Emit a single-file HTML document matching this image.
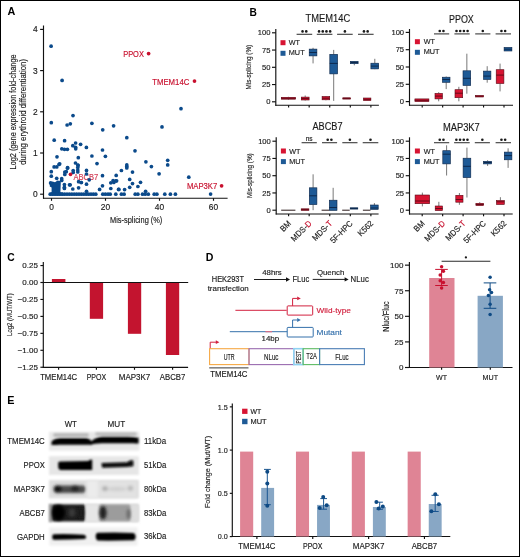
<!DOCTYPE html><html><head><meta charset="utf-8"><style>html,body{margin:0;padding:0;background:#fff;}svg{display:block;font-family:"Liberation Sans",sans-serif;will-change:transform;}</style></head><body>
<svg width="520" height="557" viewBox="0 0 520 557">
<defs><filter id="b1" x="-20%" y="-50%" width="140%" height="200%"><feGaussianBlur stdDeviation="0.9"/></filter><filter id="b2" x="-20%" y="-50%" width="140%" height="200%"><feGaussianBlur stdDeviation="1.6"/></filter><filter id="b3" x="-20%" y="-50%" width="140%" height="200%"><feGaussianBlur stdDeviation="2.5"/></filter></defs>
<rect x="0.00" y="0.00" width="520.00" height="557.00" fill="#fff" stroke="none" stroke-width="0"/>
<text x="7.50" y="15.40" font-size="10.8" text-anchor="start" fill="#000" font-weight="bold">A</text>
<text x="249.60" y="15.70" font-size="10.2" text-anchor="start" fill="#000" font-weight="bold">B</text>
<text x="7.30" y="261.00" font-size="10.3" text-anchor="start" fill="#000" font-weight="bold">C</text>
<text x="205.80" y="261.40" font-size="10.6" text-anchor="start" fill="#000" font-weight="bold">D</text>
<text x="7.30" y="404.10" font-size="10.8" text-anchor="start" fill="#000" font-weight="bold">E</text>
<line x1="43.50" y1="25.50" x2="43.50" y2="198.70" stroke="#111" stroke-width="1.15"/>
<line x1="43.00" y1="198.20" x2="227.60" y2="198.20" stroke="#111" stroke-width="1.15"/>
<line x1="40.10" y1="194.20" x2="43.50" y2="194.20" stroke="#111" stroke-width="1.15"/>
<text x="37.60" y="197.20" font-size="8.4" text-anchor="end" fill="#1a1a1a" font-weight="normal" stroke="#1a1a1a" stroke-width="0.15">0</text>
<line x1="40.10" y1="153.00" x2="43.50" y2="153.00" stroke="#111" stroke-width="1.15"/>
<text x="37.60" y="156.00" font-size="8.4" text-anchor="end" fill="#1a1a1a" font-weight="normal" stroke="#1a1a1a" stroke-width="0.15">1</text>
<line x1="40.10" y1="111.80" x2="43.50" y2="111.80" stroke="#111" stroke-width="1.15"/>
<text x="37.60" y="114.80" font-size="8.4" text-anchor="end" fill="#1a1a1a" font-weight="normal" stroke="#1a1a1a" stroke-width="0.15">2</text>
<line x1="40.10" y1="70.60" x2="43.50" y2="70.60" stroke="#111" stroke-width="1.15"/>
<text x="37.60" y="73.60" font-size="8.4" text-anchor="end" fill="#1a1a1a" font-weight="normal" stroke="#1a1a1a" stroke-width="0.15">3</text>
<line x1="40.10" y1="29.40" x2="43.50" y2="29.40" stroke="#111" stroke-width="1.15"/>
<text x="37.60" y="32.40" font-size="8.4" text-anchor="end" fill="#1a1a1a" font-weight="normal" stroke="#1a1a1a" stroke-width="0.15">4</text>
<line x1="51.50" y1="198.20" x2="51.50" y2="200.80" stroke="#111" stroke-width="1.15"/>
<text x="51.50" y="210.30" font-size="8.4" text-anchor="middle" fill="#1a1a1a" font-weight="normal" stroke="#1a1a1a" stroke-width="0.15">0</text>
<line x1="105.50" y1="198.20" x2="105.50" y2="200.80" stroke="#111" stroke-width="1.15"/>
<text x="105.50" y="210.30" font-size="8.4" text-anchor="middle" fill="#1a1a1a" font-weight="normal" stroke="#1a1a1a" stroke-width="0.15">20</text>
<line x1="159.50" y1="198.20" x2="159.50" y2="200.80" stroke="#111" stroke-width="1.15"/>
<text x="159.50" y="210.30" font-size="8.4" text-anchor="middle" fill="#1a1a1a" font-weight="normal" stroke="#1a1a1a" stroke-width="0.15">40</text>
<line x1="213.50" y1="198.20" x2="213.50" y2="200.80" stroke="#111" stroke-width="1.15"/>
<text x="213.50" y="210.30" font-size="8.4" text-anchor="middle" fill="#1a1a1a" font-weight="normal" stroke="#1a1a1a" stroke-width="0.15">60</text>
<text x="136.20" y="222.60" font-size="9" text-anchor="middle" fill="#1a1a1a" font-weight="normal" stroke="#1a1a1a" stroke-width="0.15" textLength="52.30" lengthAdjust="spacingAndGlyphs">Mis-splicing (%)</text>
<text x="15.60" y="111.90" font-size="8.8" text-anchor="middle" fill="#1a1a1a" font-weight="normal" stroke="#1a1a1a" stroke-width="0.15" textLength="115.00" lengthAdjust="spacingAndGlyphs" transform="rotate(-90 15.60 111.90)">Log2 (gene expression fold-change</text>
<text x="26.30" y="111.90" font-size="8.8" text-anchor="middle" fill="#1a1a1a" font-weight="normal" stroke="#1a1a1a" stroke-width="0.15" textLength="105.80" lengthAdjust="spacingAndGlyphs" transform="rotate(-90 26.30 111.90)">during erythroid differentiation)</text>
<text x="123.20" y="56.80" font-size="8.4" text-anchor="start" fill="#c8102e" font-weight="normal" stroke="#c8102e" stroke-width="0.15" textLength="20.70" lengthAdjust="spacingAndGlyphs">PPOX</text>
<text x="152.20" y="84.70" font-size="8.4" text-anchor="start" fill="#c8102e" font-weight="normal" stroke="#c8102e" stroke-width="0.15" textLength="37.20" lengthAdjust="spacingAndGlyphs">TMEM14C</text>
<text x="73.40" y="179.70" font-size="8.4" text-anchor="start" fill="#c8102e" font-weight="normal" stroke="#c8102e" stroke-width="0.15" textLength="24.80" lengthAdjust="spacingAndGlyphs" opacity="0.85">ABCB7</text>
<text x="186.90" y="188.70" font-size="8.4" text-anchor="start" fill="#c8102e" font-weight="normal" stroke="#c8102e" stroke-width="0.15" textLength="30.40" lengthAdjust="spacingAndGlyphs">MAP3K7</text>
<path d="M49.8,182.4 L52.5,181.6 L55,182.2 L57.5,180.6 L60.8,181.2 L60.8,183 L60.4,192.2 L63,192.6 L64,195.6 L50,195.6 L50,193 L51.6,192 L51.6,187.5 L49.8,186.5 Z" fill="#0b4a8b"/>
<circle cx="51.10" cy="46.20" r="1.85" fill="#0b4a8b"/>
<circle cx="62.10" cy="80.40" r="1.85" fill="#0b4a8b"/>
<circle cx="73.00" cy="115.60" r="1.85" fill="#0b4a8b"/>
<circle cx="51.30" cy="122.70" r="1.85" fill="#0b4a8b"/>
<circle cx="67.10" cy="125.00" r="1.85" fill="#0b4a8b"/>
<circle cx="70.30" cy="123.80" r="1.85" fill="#0b4a8b"/>
<circle cx="91.90" cy="123.30" r="1.85" fill="#0b4a8b"/>
<circle cx="102.70" cy="129.80" r="1.85" fill="#0b4a8b"/>
<circle cx="113.60" cy="125.80" r="1.85" fill="#0b4a8b"/>
<circle cx="126.80" cy="137.70" r="1.85" fill="#0b4a8b"/>
<circle cx="181.00" cy="108.70" r="1.85" fill="#0b4a8b"/>
<circle cx="162.00" cy="126.90" r="1.85" fill="#0b4a8b"/>
<circle cx="54.20" cy="140.20" r="1.85" fill="#0b4a8b"/>
<circle cx="64.60" cy="140.70" r="1.85" fill="#0b4a8b"/>
<circle cx="75.60" cy="143.00" r="1.85" fill="#0b4a8b"/>
<circle cx="80.60" cy="144.30" r="1.85" fill="#0b4a8b"/>
<circle cx="72.80" cy="145.70" r="1.85" fill="#0b4a8b"/>
<circle cx="75.60" cy="147.30" r="1.85" fill="#0b4a8b"/>
<circle cx="75.70" cy="148.80" r="1.85" fill="#0b4a8b"/>
<circle cx="86.40" cy="147.40" r="1.85" fill="#0b4a8b"/>
<circle cx="61.80" cy="148.80" r="1.85" fill="#0b4a8b"/>
<circle cx="64.50" cy="149.30" r="1.85" fill="#0b4a8b"/>
<circle cx="67.40" cy="149.30" r="1.85" fill="#0b4a8b"/>
<circle cx="57.00" cy="156.80" r="1.85" fill="#0b4a8b"/>
<circle cx="78.30" cy="157.70" r="1.85" fill="#0b4a8b"/>
<circle cx="91.90" cy="156.00" r="1.85" fill="#0b4a8b"/>
<circle cx="59.70" cy="163.80" r="1.85" fill="#0b4a8b"/>
<circle cx="75.50" cy="163.00" r="1.85" fill="#0b4a8b"/>
<circle cx="78.10" cy="165.40" r="1.85" fill="#0b4a8b"/>
<circle cx="54.10" cy="166.90" r="1.85" fill="#0b4a8b"/>
<circle cx="56.80" cy="166.90" r="1.85" fill="#0b4a8b"/>
<circle cx="67.60" cy="167.60" r="1.85" fill="#0b4a8b"/>
<circle cx="102.50" cy="150.00" r="1.85" fill="#0b4a8b"/>
<circle cx="135.00" cy="150.80" r="1.85" fill="#0b4a8b"/>
<circle cx="105.40" cy="156.30" r="1.85" fill="#0b4a8b"/>
<circle cx="97.00" cy="163.60" r="1.85" fill="#0b4a8b"/>
<circle cx="126.80" cy="164.90" r="1.85" fill="#0b4a8b"/>
<circle cx="126.80" cy="166.50" r="1.85" fill="#0b4a8b"/>
<circle cx="126.80" cy="167.90" r="1.85" fill="#0b4a8b"/>
<circle cx="145.90" cy="161.80" r="1.85" fill="#0b4a8b"/>
<circle cx="151.40" cy="166.60" r="1.85" fill="#0b4a8b"/>
<circle cx="167.70" cy="160.30" r="1.85" fill="#0b4a8b"/>
<circle cx="167.70" cy="164.90" r="1.85" fill="#0b4a8b"/>
<circle cx="59.00" cy="164.40" r="1.85" fill="#0b4a8b"/>
<circle cx="51.30" cy="171.70" r="1.85" fill="#0b4a8b"/>
<circle cx="51.30" cy="176.20" r="1.85" fill="#0b4a8b"/>
<circle cx="67.50" cy="168.20" r="1.85" fill="#0b4a8b"/>
<circle cx="64.80" cy="172.10" r="1.85" fill="#0b4a8b"/>
<circle cx="64.80" cy="174.40" r="1.85" fill="#0b4a8b"/>
<circle cx="66.30" cy="171.70" r="1.85" fill="#0b4a8b"/>
<circle cx="73.20" cy="170.50" r="1.85" fill="#0b4a8b"/>
<circle cx="73.20" cy="172.50" r="1.85" fill="#0b4a8b"/>
<circle cx="77.80" cy="165.00" r="1.85" fill="#0b4a8b"/>
<circle cx="77.80" cy="167.50" r="1.85" fill="#0b4a8b"/>
<circle cx="77.80" cy="170.00" r="1.85" fill="#0b4a8b"/>
<circle cx="77.80" cy="172.00" r="1.85" fill="#0b4a8b"/>
<circle cx="56.70" cy="178.30" r="1.85" fill="#0b4a8b"/>
<circle cx="61.70" cy="178.70" r="1.85" fill="#0b4a8b"/>
<circle cx="61.70" cy="180.50" r="1.85" fill="#0b4a8b"/>
<circle cx="64.40" cy="184.60" r="1.85" fill="#0b4a8b"/>
<circle cx="64.40" cy="187.30" r="1.85" fill="#0b4a8b"/>
<circle cx="64.40" cy="188.40" r="1.85" fill="#0b4a8b"/>
<circle cx="70.20" cy="184.80" r="1.85" fill="#0b4a8b"/>
<circle cx="72.80" cy="189.00" r="1.85" fill="#0b4a8b"/>
<circle cx="78.60" cy="187.80" r="1.85" fill="#0b4a8b"/>
<circle cx="78.60" cy="181.70" r="1.85" fill="#0b4a8b"/>
<circle cx="81.30" cy="182.50" r="1.85" fill="#0b4a8b"/>
<circle cx="86.50" cy="170.40" r="1.85" fill="#0b4a8b"/>
<circle cx="86.50" cy="174.00" r="1.85" fill="#0b4a8b"/>
<circle cx="89.20" cy="179.80" r="1.85" fill="#0b4a8b"/>
<circle cx="81.20" cy="182.50" r="1.85" fill="#0b4a8b"/>
<circle cx="86.50" cy="184.20" r="1.85" fill="#0b4a8b"/>
<circle cx="102.50" cy="175.70" r="1.85" fill="#0b4a8b"/>
<circle cx="102.50" cy="185.80" r="1.85" fill="#0b4a8b"/>
<circle cx="99.60" cy="189.40" r="1.85" fill="#0b4a8b"/>
<circle cx="116.20" cy="175.40" r="1.85" fill="#0b4a8b"/>
<circle cx="110.80" cy="182.80" r="1.85" fill="#0b4a8b"/>
<circle cx="113.10" cy="180.50" r="1.85" fill="#0b4a8b"/>
<circle cx="115.80" cy="180.90" r="1.85" fill="#0b4a8b"/>
<circle cx="113.80" cy="182.50" r="1.85" fill="#0b4a8b"/>
<circle cx="110.80" cy="188.50" r="1.85" fill="#0b4a8b"/>
<circle cx="118.50" cy="189.40" r="1.85" fill="#0b4a8b"/>
<circle cx="86.50" cy="191.30" r="1.85" fill="#0b4a8b"/>
<circle cx="121.40" cy="170.50" r="1.85" fill="#0b4a8b"/>
<circle cx="132.50" cy="172.10" r="1.85" fill="#0b4a8b"/>
<circle cx="116.60" cy="180.80" r="1.85" fill="#0b4a8b"/>
<circle cx="129.70" cy="179.40" r="1.85" fill="#0b4a8b"/>
<circle cx="132.50" cy="183.60" r="1.85" fill="#0b4a8b"/>
<circle cx="140.50" cy="182.30" r="1.85" fill="#0b4a8b"/>
<circle cx="137.90" cy="186.50" r="1.85" fill="#0b4a8b"/>
<circle cx="129.70" cy="187.30" r="1.85" fill="#0b4a8b"/>
<circle cx="118.90" cy="189.40" r="1.85" fill="#0b4a8b"/>
<circle cx="124.60" cy="189.60" r="1.85" fill="#0b4a8b"/>
<circle cx="145.60" cy="191.30" r="1.85" fill="#0b4a8b"/>
<circle cx="159.10" cy="173.80" r="1.85" fill="#0b4a8b"/>
<circle cx="188.80" cy="177.20" r="1.85" fill="#0b4a8b"/>
<circle cx="210.60" cy="194.10" r="1.85" fill="#0b4a8b"/>
<circle cx="50.60" cy="182.90" r="1.85" fill="#0b4a8b"/>
<circle cx="69.50" cy="184.80" r="1.85" fill="#0b4a8b"/>
<circle cx="50.20" cy="194.20" r="1.85" fill="#0b4a8b"/>
<circle cx="52.60" cy="194.20" r="1.85" fill="#0b4a8b"/>
<circle cx="55.00" cy="194.20" r="1.85" fill="#0b4a8b"/>
<circle cx="57.40" cy="194.20" r="1.85" fill="#0b4a8b"/>
<circle cx="59.80" cy="194.20" r="1.85" fill="#0b4a8b"/>
<circle cx="62.20" cy="194.20" r="1.85" fill="#0b4a8b"/>
<circle cx="64.60" cy="194.20" r="1.85" fill="#0b4a8b"/>
<circle cx="67.00" cy="194.20" r="1.85" fill="#0b4a8b"/>
<circle cx="69.40" cy="194.20" r="1.85" fill="#0b4a8b"/>
<circle cx="71.80" cy="194.20" r="1.85" fill="#0b4a8b"/>
<circle cx="74.20" cy="194.20" r="1.85" fill="#0b4a8b"/>
<circle cx="76.60" cy="194.20" r="1.85" fill="#0b4a8b"/>
<circle cx="79.00" cy="194.20" r="1.85" fill="#0b4a8b"/>
<circle cx="81.40" cy="194.20" r="1.85" fill="#0b4a8b"/>
<circle cx="83.80" cy="194.20" r="1.85" fill="#0b4a8b"/>
<circle cx="86.20" cy="194.20" r="1.85" fill="#0b4a8b"/>
<circle cx="88.60" cy="194.20" r="1.85" fill="#0b4a8b"/>
<circle cx="91.00" cy="194.20" r="1.85" fill="#0b4a8b"/>
<circle cx="93.40" cy="194.20" r="1.85" fill="#0b4a8b"/>
<circle cx="95.80" cy="194.20" r="1.85" fill="#0b4a8b"/>
<circle cx="102.80" cy="194.20" r="1.85" fill="#0b4a8b"/>
<circle cx="105.40" cy="194.20" r="1.85" fill="#0b4a8b"/>
<circle cx="108.00" cy="194.20" r="1.85" fill="#0b4a8b"/>
<circle cx="110.20" cy="194.20" r="1.85" fill="#0b4a8b"/>
<circle cx="115.80" cy="194.20" r="1.85" fill="#0b4a8b"/>
<circle cx="121.40" cy="194.20" r="1.85" fill="#0b4a8b"/>
<circle cx="124.10" cy="194.20" r="1.85" fill="#0b4a8b"/>
<circle cx="135.20" cy="194.20" r="1.85" fill="#0b4a8b"/>
<circle cx="137.90" cy="194.20" r="1.85" fill="#0b4a8b"/>
<circle cx="142.50" cy="194.20" r="1.85" fill="#0b4a8b"/>
<circle cx="145.20" cy="194.20" r="1.85" fill="#0b4a8b"/>
<circle cx="148.30" cy="194.20" r="1.85" fill="#0b4a8b"/>
<circle cx="154.20" cy="194.20" r="1.85" fill="#0b4a8b"/>
<circle cx="156.90" cy="194.20" r="1.85" fill="#0b4a8b"/>
<circle cx="164.80" cy="194.20" r="1.85" fill="#0b4a8b"/>
<circle cx="170.40" cy="194.20" r="1.85" fill="#0b4a8b"/>
<circle cx="175.40" cy="194.20" r="1.85" fill="#0b4a8b"/>
<circle cx="148.60" cy="53.60" r="1.85" fill="#c8102e"/>
<circle cx="194.50" cy="81.10" r="1.85" fill="#c8102e"/>
<circle cx="70.50" cy="174.30" r="1.85" fill="#c8102e"/>
<circle cx="221.60" cy="185.80" r="1.85" fill="#c8102e"/>
<line x1="275.80" y1="29.00" x2="275.80" y2="105.70" stroke="#111" stroke-width="1.15"/>
<line x1="275.30" y1="105.20" x2="378.90" y2="105.20" stroke="#111" stroke-width="1.15"/>
<line x1="272.00" y1="101.80" x2="275.80" y2="101.80" stroke="#111" stroke-width="1.15"/>
<text x="270.40" y="104.40" font-size="7.6" text-anchor="end" fill="#1a1a1a" font-weight="normal" stroke="#1a1a1a" stroke-width="0.15">0</text>
<line x1="272.00" y1="84.55" x2="275.80" y2="84.55" stroke="#111" stroke-width="1.15"/>
<text x="270.40" y="87.15" font-size="7.6" text-anchor="end" fill="#1a1a1a" font-weight="normal" stroke="#1a1a1a" stroke-width="0.15">25</text>
<line x1="272.00" y1="67.30" x2="275.80" y2="67.30" stroke="#111" stroke-width="1.15"/>
<text x="270.40" y="69.90" font-size="7.6" text-anchor="end" fill="#1a1a1a" font-weight="normal" stroke="#1a1a1a" stroke-width="0.15">50</text>
<line x1="272.00" y1="50.05" x2="275.80" y2="50.05" stroke="#111" stroke-width="1.15"/>
<text x="270.40" y="52.65" font-size="7.6" text-anchor="end" fill="#1a1a1a" font-weight="normal" stroke="#1a1a1a" stroke-width="0.15">75</text>
<line x1="272.00" y1="32.80" x2="275.80" y2="32.80" stroke="#111" stroke-width="1.15"/>
<text x="270.40" y="35.40" font-size="7.6" text-anchor="end" fill="#1a1a1a" font-weight="normal" stroke="#1a1a1a" stroke-width="0.15">100</text>
<line x1="288.60" y1="105.20" x2="288.60" y2="107.50" stroke="#111" stroke-width="1.15"/>
<line x1="309.17" y1="105.20" x2="309.17" y2="107.50" stroke="#111" stroke-width="1.15"/>
<line x1="329.74" y1="105.20" x2="329.74" y2="107.50" stroke="#111" stroke-width="1.15"/>
<line x1="350.31" y1="105.20" x2="350.31" y2="107.50" stroke="#111" stroke-width="1.15"/>
<line x1="370.88" y1="105.20" x2="370.88" y2="107.50" stroke="#111" stroke-width="1.15"/>
<text x="327.90" y="22.10" font-size="10" text-anchor="middle" fill="#1a1a1a" font-weight="normal" stroke="#1a1a1a" stroke-width="0.15" textLength="44.70" lengthAdjust="spacingAndGlyphs">TMEM14C</text>
<text x="251.30" y="67.10" font-size="7.6" text-anchor="middle" fill="#222" font-weight="normal" stroke="#222" stroke-width="0.15" textLength="44.60" lengthAdjust="spacingAndGlyphs" transform="rotate(-90 251.30 67.10)">Mis-splicing (%)</text>
<rect x="280.50" y="40.20" width="5.00" height="5.00" fill="#d71432" stroke="none" stroke-width="0"/>
<rect x="280.50" y="50.80" width="5.00" height="5.00" fill="#1e5a96" stroke="none" stroke-width="0"/>
<text x="288.80" y="45.20" font-size="7.8" text-anchor="start" fill="#1a1a1a" font-weight="normal" stroke="#1a1a1a" stroke-width="0.15" textLength="11.20" lengthAdjust="spacingAndGlyphs">WT</text>
<text x="288.80" y="55.20" font-size="7.8" text-anchor="start" fill="#1a1a1a" font-weight="normal" stroke="#1a1a1a" stroke-width="0.15" textLength="15.80" lengthAdjust="spacingAndGlyphs">MUT</text>
<line x1="296.60" y1="34.30" x2="312.20" y2="34.30" stroke="#3a3a3a" stroke-width="1.1"/>
<circle cx="302.55" cy="31.40" r="1.3" fill="#1a1a1a"/>
<circle cx="306.25" cy="31.40" r="1.3" fill="#1a1a1a"/>
<line x1="316.80" y1="34.30" x2="332.40" y2="34.30" stroke="#3a3a3a" stroke-width="1.1"/>
<circle cx="319.05" cy="31.40" r="1.3" fill="#1a1a1a"/>
<circle cx="322.75" cy="31.40" r="1.3" fill="#1a1a1a"/>
<circle cx="326.45" cy="31.40" r="1.3" fill="#1a1a1a"/>
<circle cx="330.15" cy="31.40" r="1.3" fill="#1a1a1a"/>
<line x1="337.10" y1="34.30" x2="352.70" y2="34.30" stroke="#3a3a3a" stroke-width="1.1"/>
<circle cx="344.90" cy="31.40" r="1.3" fill="#1a1a1a"/>
<line x1="358.00" y1="34.30" x2="373.60" y2="34.30" stroke="#3a3a3a" stroke-width="1.1"/>
<circle cx="363.95" cy="31.40" r="1.3" fill="#1a1a1a"/>
<circle cx="367.65" cy="31.40" r="1.3" fill="#1a1a1a"/>
<line x1="288.45" y1="96.80" x2="288.45" y2="97.30" stroke="#555" stroke-width="0.8"/>
<line x1="288.45" y1="99.20" x2="288.45" y2="99.80" stroke="#555" stroke-width="0.8"/>
<rect x="281.30" y="97.30" width="14.30" height="1.90" fill="#d71432" stroke="#5a0814" stroke-width="0.6"/>
<line x1="281.30" y1="98.30" x2="295.60" y2="98.30" stroke="#5a0814" stroke-width="0.9"/>
<line x1="305.20" y1="95.50" x2="305.20" y2="97.10" stroke="#555" stroke-width="0.8"/>
<line x1="305.20" y1="100.00" x2="305.20" y2="100.50" stroke="#555" stroke-width="0.8"/>
<rect x="301.30" y="97.10" width="7.80" height="2.90" fill="#d71432" stroke="#5a0814" stroke-width="0.6"/>
<line x1="301.30" y1="98.60" x2="309.10" y2="98.60" stroke="#5a0814" stroke-width="0.9"/>
<line x1="313.05" y1="47.80" x2="313.05" y2="49.10" stroke="#555" stroke-width="0.8"/>
<line x1="313.05" y1="55.90" x2="313.05" y2="63.40" stroke="#555" stroke-width="0.8"/>
<rect x="309.20" y="49.10" width="7.70" height="6.80" fill="#1e5a96" stroke="#0a2446" stroke-width="0.6"/>
<line x1="309.20" y1="52.50" x2="316.90" y2="52.50" stroke="#0a2446" stroke-width="0.9"/>
<line x1="325.90" y1="96.00" x2="325.90" y2="96.50" stroke="#555" stroke-width="0.8"/>
<line x1="325.90" y1="99.80" x2="325.90" y2="100.30" stroke="#555" stroke-width="0.8"/>
<rect x="322.10" y="96.50" width="7.60" height="3.30" fill="#d71432" stroke="#5a0814" stroke-width="0.6"/>
<line x1="322.10" y1="98.20" x2="329.70" y2="98.20" stroke="#5a0814" stroke-width="0.9"/>
<line x1="333.70" y1="49.90" x2="333.70" y2="54.30" stroke="#555" stroke-width="0.8"/>
<line x1="333.70" y1="73.90" x2="333.70" y2="100.90" stroke="#555" stroke-width="0.8"/>
<rect x="329.80" y="54.30" width="7.80" height="19.60" fill="#1e5a96" stroke="#0a2446" stroke-width="0.6"/>
<line x1="329.80" y1="63.40" x2="337.60" y2="63.40" stroke="#0a2446" stroke-width="0.9"/>
<rect x="342.80" y="97.80" width="7.70" height="1.30" fill="#d71432" stroke="#5a0814" stroke-width="0.6"/>
<line x1="342.80" y1="98.40" x2="350.50" y2="98.40" stroke="#5a0814" stroke-width="0.9"/>
<line x1="354.30" y1="61.00" x2="354.30" y2="61.30" stroke="#555" stroke-width="0.8"/>
<line x1="354.30" y1="63.70" x2="354.30" y2="65.30" stroke="#555" stroke-width="0.8"/>
<rect x="350.50" y="61.30" width="7.60" height="2.40" fill="#1e5a96" stroke="#0a2446" stroke-width="0.6"/>
<line x1="350.50" y1="62.50" x2="358.10" y2="62.50" stroke="#0a2446" stroke-width="0.9"/>
<rect x="363.50" y="98.00" width="7.40" height="2.60" fill="#d71432" stroke="#5a0814" stroke-width="0.6"/>
<line x1="363.50" y1="99.30" x2="370.90" y2="99.30" stroke="#5a0814" stroke-width="0.9"/>
<line x1="374.80" y1="58.80" x2="374.80" y2="63.20" stroke="#555" stroke-width="0.8"/>
<line x1="374.80" y1="68.90" x2="374.80" y2="69.20" stroke="#555" stroke-width="0.8"/>
<rect x="370.90" y="63.20" width="7.80" height="5.70" fill="#1e5a96" stroke="#0a2446" stroke-width="0.6"/>
<line x1="370.90" y1="66.10" x2="378.70" y2="66.10" stroke="#0a2446" stroke-width="0.9"/>
<line x1="409.50" y1="29.00" x2="409.50" y2="105.70" stroke="#111" stroke-width="1.15"/>
<line x1="409.00" y1="105.20" x2="513.00" y2="105.20" stroke="#111" stroke-width="1.15"/>
<line x1="405.70" y1="101.60" x2="409.50" y2="101.60" stroke="#111" stroke-width="1.15"/>
<text x="404.10" y="104.20" font-size="7.6" text-anchor="end" fill="#1a1a1a" font-weight="normal" stroke="#1a1a1a" stroke-width="0.15">0</text>
<line x1="405.70" y1="84.30" x2="409.50" y2="84.30" stroke="#111" stroke-width="1.15"/>
<text x="404.10" y="86.90" font-size="7.6" text-anchor="end" fill="#1a1a1a" font-weight="normal" stroke="#1a1a1a" stroke-width="0.15">25</text>
<line x1="405.70" y1="67.00" x2="409.50" y2="67.00" stroke="#111" stroke-width="1.15"/>
<text x="404.10" y="69.60" font-size="7.6" text-anchor="end" fill="#1a1a1a" font-weight="normal" stroke="#1a1a1a" stroke-width="0.15">50</text>
<line x1="405.70" y1="49.70" x2="409.50" y2="49.70" stroke="#111" stroke-width="1.15"/>
<text x="404.10" y="52.30" font-size="7.6" text-anchor="end" fill="#1a1a1a" font-weight="normal" stroke="#1a1a1a" stroke-width="0.15">75</text>
<line x1="405.70" y1="32.40" x2="409.50" y2="32.40" stroke="#111" stroke-width="1.15"/>
<text x="404.10" y="35.00" font-size="7.6" text-anchor="end" fill="#1a1a1a" font-weight="normal" stroke="#1a1a1a" stroke-width="0.15">100</text>
<line x1="422.20" y1="105.20" x2="422.20" y2="107.50" stroke="#111" stroke-width="1.15"/>
<line x1="442.65" y1="105.20" x2="442.65" y2="107.50" stroke="#111" stroke-width="1.15"/>
<line x1="463.10" y1="105.20" x2="463.10" y2="107.50" stroke="#111" stroke-width="1.15"/>
<line x1="483.55" y1="105.20" x2="483.55" y2="107.50" stroke="#111" stroke-width="1.15"/>
<line x1="504.00" y1="105.20" x2="504.00" y2="107.50" stroke="#111" stroke-width="1.15"/>
<text x="461.40" y="22.90" font-size="10" text-anchor="middle" fill="#1a1a1a" font-weight="normal" stroke="#1a1a1a" stroke-width="0.15" textLength="24.80" lengthAdjust="spacingAndGlyphs">PPOX</text>
<rect x="414.90" y="39.20" width="5.00" height="5.00" fill="#d71432" stroke="none" stroke-width="0"/>
<rect x="414.90" y="49.80" width="5.00" height="5.00" fill="#1e5a96" stroke="none" stroke-width="0"/>
<text x="423.69" y="44.20" font-size="7.8" text-anchor="start" fill="#1a1a1a" font-weight="normal" stroke="#1a1a1a" stroke-width="0.15" textLength="11.20" lengthAdjust="spacingAndGlyphs">WT</text>
<text x="423.69" y="54.20" font-size="7.8" text-anchor="start" fill="#1a1a1a" font-weight="normal" stroke="#1a1a1a" stroke-width="0.15" textLength="15.80" lengthAdjust="spacingAndGlyphs">MUT</text>
<line x1="434.00" y1="33.90" x2="449.20" y2="33.90" stroke="#3a3a3a" stroke-width="1.1"/>
<circle cx="439.75" cy="31.00" r="1.3" fill="#1a1a1a"/>
<circle cx="443.45" cy="31.00" r="1.3" fill="#1a1a1a"/>
<line x1="454.40" y1="33.90" x2="469.70" y2="33.90" stroke="#3a3a3a" stroke-width="1.1"/>
<circle cx="456.50" cy="31.00" r="1.3" fill="#1a1a1a"/>
<circle cx="460.20" cy="31.00" r="1.3" fill="#1a1a1a"/>
<circle cx="463.90" cy="31.00" r="1.3" fill="#1a1a1a"/>
<circle cx="467.60" cy="31.00" r="1.3" fill="#1a1a1a"/>
<line x1="475.20" y1="33.90" x2="490.40" y2="33.90" stroke="#3a3a3a" stroke-width="1.1"/>
<circle cx="482.80" cy="31.00" r="1.3" fill="#1a1a1a"/>
<line x1="495.60" y1="33.90" x2="511.00" y2="33.90" stroke="#3a3a3a" stroke-width="1.1"/>
<circle cx="501.45" cy="31.00" r="1.3" fill="#1a1a1a"/>
<circle cx="505.15" cy="31.00" r="1.3" fill="#1a1a1a"/>
<rect x="414.90" y="98.90" width="14.00" height="2.70" fill="#d71432" stroke="#5a0814" stroke-width="0.6"/>
<line x1="414.90" y1="100.30" x2="428.90" y2="100.30" stroke="#5a0814" stroke-width="0.9"/>
<line x1="438.70" y1="92.20" x2="438.70" y2="93.40" stroke="#555" stroke-width="0.8"/>
<line x1="438.70" y1="98.90" x2="438.70" y2="101.30" stroke="#555" stroke-width="0.8"/>
<rect x="435.00" y="93.40" width="7.40" height="5.50" fill="#d71432" stroke="#5a0814" stroke-width="0.6"/>
<line x1="435.00" y1="96.10" x2="442.40" y2="96.10" stroke="#5a0814" stroke-width="0.9"/>
<line x1="446.20" y1="76.50" x2="446.20" y2="77.20" stroke="#555" stroke-width="0.8"/>
<line x1="446.20" y1="82.30" x2="446.20" y2="89.10" stroke="#555" stroke-width="0.8"/>
<rect x="442.40" y="77.20" width="7.60" height="5.10" fill="#1e5a96" stroke="#0a2446" stroke-width="0.6"/>
<line x1="442.40" y1="79.50" x2="450.00" y2="79.50" stroke="#0a2446" stroke-width="0.9"/>
<line x1="458.85" y1="86.80" x2="458.85" y2="89.70" stroke="#555" stroke-width="0.8"/>
<line x1="458.85" y1="97.70" x2="458.85" y2="101.30" stroke="#555" stroke-width="0.8"/>
<rect x="455.00" y="89.70" width="7.70" height="8.00" fill="#d71432" stroke="#5a0814" stroke-width="0.6"/>
<line x1="455.00" y1="93.20" x2="462.70" y2="93.20" stroke="#5a0814" stroke-width="0.9"/>
<line x1="466.85" y1="53.70" x2="466.85" y2="70.80" stroke="#555" stroke-width="0.8"/>
<line x1="466.85" y1="85.50" x2="466.85" y2="93.70" stroke="#555" stroke-width="0.8"/>
<rect x="463.00" y="70.80" width="7.70" height="14.70" fill="#1e5a96" stroke="#0a2446" stroke-width="0.6"/>
<line x1="463.00" y1="78.30" x2="470.70" y2="78.30" stroke="#0a2446" stroke-width="0.9"/>
<rect x="475.60" y="95.50" width="7.90" height="1.50" fill="#d71432" stroke="#5a0814" stroke-width="0.6"/>
<line x1="475.60" y1="96.20" x2="483.50" y2="96.20" stroke="#5a0814" stroke-width="0.9"/>
<line x1="487.20" y1="66.20" x2="487.20" y2="71.10" stroke="#555" stroke-width="0.8"/>
<line x1="487.20" y1="79.50" x2="487.20" y2="82.70" stroke="#555" stroke-width="0.8"/>
<rect x="483.50" y="71.10" width="7.40" height="8.40" fill="#1e5a96" stroke="#0a2446" stroke-width="0.6"/>
<line x1="483.50" y1="76.10" x2="490.90" y2="76.10" stroke="#0a2446" stroke-width="0.9"/>
<line x1="500.05" y1="63.60" x2="500.05" y2="69.70" stroke="#555" stroke-width="0.8"/>
<line x1="500.05" y1="83.50" x2="500.05" y2="91.40" stroke="#555" stroke-width="0.8"/>
<rect x="496.20" y="69.70" width="7.70" height="13.80" fill="#d71432" stroke="#5a0814" stroke-width="0.6"/>
<line x1="496.20" y1="75.10" x2="503.90" y2="75.10" stroke="#5a0814" stroke-width="0.9"/>
<rect x="504.10" y="47.40" width="7.80" height="3.60" fill="#1e5a96" stroke="#0a2446" stroke-width="0.6"/>
<line x1="504.10" y1="49.20" x2="511.90" y2="49.20" stroke="#0a2446" stroke-width="0.9"/>
<line x1="276.20" y1="137.30" x2="276.20" y2="214.50" stroke="#111" stroke-width="1.15"/>
<line x1="275.70" y1="214.00" x2="378.60" y2="214.00" stroke="#111" stroke-width="1.15"/>
<line x1="272.40" y1="210.20" x2="276.20" y2="210.20" stroke="#111" stroke-width="1.15"/>
<text x="270.80" y="212.80" font-size="7.6" text-anchor="end" fill="#1a1a1a" font-weight="normal" stroke="#1a1a1a" stroke-width="0.15">0</text>
<line x1="272.40" y1="192.95" x2="276.20" y2="192.95" stroke="#111" stroke-width="1.15"/>
<text x="270.80" y="195.55" font-size="7.6" text-anchor="end" fill="#1a1a1a" font-weight="normal" stroke="#1a1a1a" stroke-width="0.15">25</text>
<line x1="272.40" y1="175.70" x2="276.20" y2="175.70" stroke="#111" stroke-width="1.15"/>
<text x="270.80" y="178.30" font-size="7.6" text-anchor="end" fill="#1a1a1a" font-weight="normal" stroke="#1a1a1a" stroke-width="0.15">50</text>
<line x1="272.40" y1="158.45" x2="276.20" y2="158.45" stroke="#111" stroke-width="1.15"/>
<text x="270.80" y="161.05" font-size="7.6" text-anchor="end" fill="#1a1a1a" font-weight="normal" stroke="#1a1a1a" stroke-width="0.15">75</text>
<line x1="272.40" y1="141.20" x2="276.20" y2="141.20" stroke="#111" stroke-width="1.15"/>
<text x="270.80" y="143.80" font-size="7.6" text-anchor="end" fill="#1a1a1a" font-weight="normal" stroke="#1a1a1a" stroke-width="0.15">100</text>
<line x1="288.60" y1="214.00" x2="288.60" y2="216.30" stroke="#111" stroke-width="1.15"/>
<line x1="309.17" y1="214.00" x2="309.17" y2="216.30" stroke="#111" stroke-width="1.15"/>
<line x1="329.74" y1="214.00" x2="329.74" y2="216.30" stroke="#111" stroke-width="1.15"/>
<line x1="350.31" y1="214.00" x2="350.31" y2="216.30" stroke="#111" stroke-width="1.15"/>
<line x1="370.88" y1="214.00" x2="370.88" y2="216.30" stroke="#111" stroke-width="1.15"/>
<text x="327.50" y="130.30" font-size="10" text-anchor="middle" fill="#1a1a1a" font-weight="normal" stroke="#1a1a1a" stroke-width="0.15" textLength="30.00" lengthAdjust="spacingAndGlyphs">ABCB7</text>
<text x="251.70" y="175.65" font-size="7.6" text-anchor="middle" fill="#222" font-weight="normal" stroke="#222" stroke-width="0.15" textLength="44.60" lengthAdjust="spacingAndGlyphs" transform="rotate(-90 251.70 175.65)">Mis-splicing (%)</text>
<rect x="280.90" y="148.50" width="5.00" height="5.00" fill="#d71432" stroke="none" stroke-width="0"/>
<rect x="280.90" y="159.10" width="5.00" height="5.00" fill="#1e5a96" stroke="none" stroke-width="0"/>
<text x="289.20" y="153.50" font-size="7.8" text-anchor="start" fill="#1a1a1a" font-weight="normal" stroke="#1a1a1a" stroke-width="0.15" textLength="11.20" lengthAdjust="spacingAndGlyphs">WT</text>
<text x="289.20" y="163.50" font-size="7.8" text-anchor="start" fill="#1a1a1a" font-weight="normal" stroke="#1a1a1a" stroke-width="0.15" textLength="15.80" lengthAdjust="spacingAndGlyphs">MUT</text>
<line x1="301.60" y1="142.70" x2="316.80" y2="142.70" stroke="#3a3a3a" stroke-width="1.1"/>
<text x="309.20" y="140.60" font-size="7.6" text-anchor="middle" fill="#1a1a1a" font-weight="normal" stroke="#1a1a1a" stroke-width="0.15" textLength="7.00" lengthAdjust="spacingAndGlyphs">ns</text>
<line x1="322.00" y1="142.70" x2="337.10" y2="142.70" stroke="#3a3a3a" stroke-width="1.1"/>
<circle cx="327.70" cy="139.80" r="1.3" fill="#1a1a1a"/>
<circle cx="331.40" cy="139.80" r="1.3" fill="#1a1a1a"/>
<line x1="342.30" y1="142.70" x2="357.50" y2="142.70" stroke="#3a3a3a" stroke-width="1.1"/>
<circle cx="349.90" cy="139.80" r="1.3" fill="#1a1a1a"/>
<line x1="362.70" y1="142.70" x2="378.30" y2="142.70" stroke="#3a3a3a" stroke-width="1.1"/>
<circle cx="370.50" cy="139.80" r="1.3" fill="#1a1a1a"/>
<line x1="281.20" y1="210.20" x2="295.40" y2="210.20" stroke="#2a1a1a" stroke-width="1.0"/>
<rect x="301.20" y="208.80" width="7.70" height="1.60" fill="#d71432" stroke="#5a0814" stroke-width="0.6"/>
<line x1="301.20" y1="209.60" x2="308.90" y2="209.60" stroke="#5a0814" stroke-width="0.9"/>
<line x1="313.10" y1="174.30" x2="313.10" y2="187.80" stroke="#555" stroke-width="0.8"/>
<line x1="313.10" y1="204.60" x2="313.10" y2="210.20" stroke="#555" stroke-width="0.8"/>
<rect x="309.30" y="187.80" width="7.60" height="16.80" fill="#1e5a96" stroke="#0a2446" stroke-width="0.6"/>
<line x1="309.30" y1="195.80" x2="316.90" y2="195.80" stroke="#0a2446" stroke-width="0.9"/>
<line x1="321.60" y1="210.20" x2="329.20" y2="210.20" stroke="#2a1a1a" stroke-width="1.0"/>
<line x1="333.15" y1="187.80" x2="333.15" y2="200.20" stroke="#555" stroke-width="0.8"/>
<rect x="329.30" y="200.20" width="7.70" height="10.20" fill="#1e5a96" stroke="#0a2446" stroke-width="0.6"/>
<line x1="329.30" y1="207.50" x2="337.00" y2="207.50" stroke="#0a2446" stroke-width="0.9"/>
<line x1="342.20" y1="210.20" x2="349.70" y2="210.20" stroke="#2a1a1a" stroke-width="1.0"/>
<rect x="350.20" y="207.80" width="7.60" height="1.30" fill="#1e5a96" stroke="#0a2446" stroke-width="0.6"/>
<line x1="350.20" y1="208.40" x2="357.80" y2="208.40" stroke="#0a2446" stroke-width="0.9"/>
<line x1="362.90" y1="210.20" x2="370.50" y2="210.20" stroke="#2a1a1a" stroke-width="1.0"/>
<line x1="374.40" y1="203.10" x2="374.40" y2="205.00" stroke="#555" stroke-width="0.8"/>
<rect x="370.60" y="205.00" width="7.60" height="4.40" fill="#1e5a96" stroke="#0a2446" stroke-width="0.6"/>
<line x1="370.60" y1="208.00" x2="378.20" y2="208.00" stroke="#0a2446" stroke-width="0.9"/>
<text x="291.60" y="224.00" font-size="8.4" text-anchor="end" fill="#1a1a1a" stroke="#1a1a1a" stroke-width="0.15" textLength="11.59" lengthAdjust="spacingAndGlyphs" transform="rotate(-45 291.60 224.00)">BM</text>
<text x="312.17" y="224.00" font-size="8.4" text-anchor="end" fill="#1a1a1a" stroke="#1a1a1a" stroke-width="0.15" textLength="25.33" lengthAdjust="spacingAndGlyphs" transform="rotate(-45 312.17 224.00)">MDS-<tspan stroke="#c8102e" fill="#c8102e">D</tspan></text>
<text x="332.74" y="224.00" font-size="8.4" text-anchor="end" fill="#1a1a1a" stroke="#1a1a1a" stroke-width="0.15" textLength="24.46" lengthAdjust="spacingAndGlyphs" transform="rotate(-45 332.74 224.00)">MDS-<tspan stroke="#c8102e" fill="#c8102e">T</tspan></text>
<text x="353.31" y="224.00" font-size="8.4" text-anchor="end" fill="#1a1a1a" stroke="#1a1a1a" stroke-width="0.15" textLength="27.90" lengthAdjust="spacingAndGlyphs" transform="rotate(-45 353.31 224.00)">5F-HPC</text>
<text x="373.88" y="224.00" font-size="8.4" text-anchor="end" fill="#1a1a1a" stroke="#1a1a1a" stroke-width="0.15" textLength="18.05" lengthAdjust="spacingAndGlyphs" transform="rotate(-45 373.88 224.00)">K562</text>
<line x1="409.50" y1="137.30" x2="409.50" y2="214.50" stroke="#111" stroke-width="1.15"/>
<line x1="409.00" y1="214.00" x2="512.70" y2="214.00" stroke="#111" stroke-width="1.15"/>
<line x1="405.70" y1="210.20" x2="409.50" y2="210.20" stroke="#111" stroke-width="1.15"/>
<text x="404.10" y="212.80" font-size="7.6" text-anchor="end" fill="#1a1a1a" font-weight="normal" stroke="#1a1a1a" stroke-width="0.15">0</text>
<line x1="405.70" y1="192.95" x2="409.50" y2="192.95" stroke="#111" stroke-width="1.15"/>
<text x="404.10" y="195.55" font-size="7.6" text-anchor="end" fill="#1a1a1a" font-weight="normal" stroke="#1a1a1a" stroke-width="0.15">25</text>
<line x1="405.70" y1="175.70" x2="409.50" y2="175.70" stroke="#111" stroke-width="1.15"/>
<text x="404.10" y="178.30" font-size="7.6" text-anchor="end" fill="#1a1a1a" font-weight="normal" stroke="#1a1a1a" stroke-width="0.15">50</text>
<line x1="405.70" y1="158.45" x2="409.50" y2="158.45" stroke="#111" stroke-width="1.15"/>
<text x="404.10" y="161.05" font-size="7.6" text-anchor="end" fill="#1a1a1a" font-weight="normal" stroke="#1a1a1a" stroke-width="0.15">75</text>
<line x1="405.70" y1="141.20" x2="409.50" y2="141.20" stroke="#111" stroke-width="1.15"/>
<text x="404.10" y="143.80" font-size="7.6" text-anchor="end" fill="#1a1a1a" font-weight="normal" stroke="#1a1a1a" stroke-width="0.15">100</text>
<line x1="422.20" y1="214.00" x2="422.20" y2="216.30" stroke="#111" stroke-width="1.15"/>
<line x1="442.65" y1="214.00" x2="442.65" y2="216.30" stroke="#111" stroke-width="1.15"/>
<line x1="463.10" y1="214.00" x2="463.10" y2="216.30" stroke="#111" stroke-width="1.15"/>
<line x1="483.55" y1="214.00" x2="483.55" y2="216.30" stroke="#111" stroke-width="1.15"/>
<line x1="504.00" y1="214.00" x2="504.00" y2="216.30" stroke="#111" stroke-width="1.15"/>
<text x="461.35" y="130.60" font-size="10" text-anchor="middle" fill="#1a1a1a" font-weight="normal" stroke="#1a1a1a" stroke-width="0.15" textLength="36.90" lengthAdjust="spacingAndGlyphs">MAP3K7</text>
<rect x="414.90" y="148.50" width="5.00" height="5.00" fill="#d71432" stroke="none" stroke-width="0"/>
<rect x="414.90" y="159.10" width="5.00" height="5.00" fill="#1e5a96" stroke="none" stroke-width="0"/>
<text x="423.69" y="153.50" font-size="7.8" text-anchor="start" fill="#1a1a1a" font-weight="normal" stroke="#1a1a1a" stroke-width="0.15" textLength="11.20" lengthAdjust="spacingAndGlyphs">WT</text>
<text x="423.69" y="163.50" font-size="7.8" text-anchor="start" fill="#1a1a1a" font-weight="normal" stroke="#1a1a1a" stroke-width="0.15" textLength="15.80" lengthAdjust="spacingAndGlyphs">MUT</text>
<line x1="434.00" y1="142.70" x2="449.20" y2="142.70" stroke="#3a3a3a" stroke-width="1.1"/>
<circle cx="439.75" cy="139.80" r="1.3" fill="#1a1a1a"/>
<circle cx="443.45" cy="139.80" r="1.3" fill="#1a1a1a"/>
<line x1="454.10" y1="142.70" x2="469.70" y2="142.70" stroke="#3a3a3a" stroke-width="1.1"/>
<circle cx="456.35" cy="139.80" r="1.3" fill="#1a1a1a"/>
<circle cx="460.05" cy="139.80" r="1.3" fill="#1a1a1a"/>
<circle cx="463.75" cy="139.80" r="1.3" fill="#1a1a1a"/>
<circle cx="467.45" cy="139.80" r="1.3" fill="#1a1a1a"/>
<line x1="474.80" y1="142.70" x2="489.90" y2="142.70" stroke="#3a3a3a" stroke-width="1.1"/>
<circle cx="482.35" cy="139.80" r="1.3" fill="#1a1a1a"/>
<line x1="495.60" y1="142.70" x2="511.00" y2="142.70" stroke="#3a3a3a" stroke-width="1.1"/>
<circle cx="501.45" cy="139.80" r="1.3" fill="#1a1a1a"/>
<circle cx="505.15" cy="139.80" r="1.3" fill="#1a1a1a"/>
<line x1="422.35" y1="192.60" x2="422.35" y2="195.00" stroke="#555" stroke-width="0.8"/>
<line x1="422.35" y1="203.70" x2="422.35" y2="206.40" stroke="#555" stroke-width="0.8"/>
<rect x="415.10" y="195.00" width="14.50" height="8.70" fill="#d71432" stroke="#5a0814" stroke-width="0.6"/>
<line x1="415.10" y1="201.00" x2="429.60" y2="201.00" stroke="#5a0814" stroke-width="0.9"/>
<line x1="438.85" y1="201.80" x2="438.85" y2="206.00" stroke="#555" stroke-width="0.8"/>
<rect x="435.20" y="206.00" width="7.30" height="4.60" fill="#d71432" stroke="#5a0814" stroke-width="0.6"/>
<line x1="435.20" y1="208.50" x2="442.50" y2="208.50" stroke="#5a0814" stroke-width="0.9"/>
<line x1="446.60" y1="145.30" x2="446.60" y2="150.70" stroke="#555" stroke-width="0.8"/>
<line x1="446.60" y1="163.90" x2="446.60" y2="175.50" stroke="#555" stroke-width="0.8"/>
<rect x="442.80" y="150.70" width="7.60" height="13.20" fill="#1e5a96" stroke="#0a2446" stroke-width="0.6"/>
<line x1="442.80" y1="154.20" x2="450.40" y2="154.20" stroke="#0a2446" stroke-width="0.9"/>
<line x1="459.40" y1="193.00" x2="459.40" y2="195.30" stroke="#555" stroke-width="0.8"/>
<line x1="459.40" y1="202.20" x2="459.40" y2="204.80" stroke="#555" stroke-width="0.8"/>
<rect x="455.80" y="195.30" width="7.20" height="6.90" fill="#d71432" stroke="#5a0814" stroke-width="0.6"/>
<line x1="455.80" y1="199.50" x2="463.00" y2="199.50" stroke="#5a0814" stroke-width="0.9"/>
<line x1="466.95" y1="147.60" x2="466.95" y2="158.20" stroke="#555" stroke-width="0.8"/>
<line x1="466.95" y1="177.60" x2="466.95" y2="197.50" stroke="#555" stroke-width="0.8"/>
<rect x="463.10" y="158.20" width="7.70" height="19.40" fill="#1e5a96" stroke="#0a2446" stroke-width="0.6"/>
<line x1="463.10" y1="166.30" x2="470.80" y2="166.30" stroke="#0a2446" stroke-width="0.9"/>
<line x1="479.75" y1="202.10" x2="479.75" y2="203.30" stroke="#555" stroke-width="0.8"/>
<rect x="475.90" y="203.30" width="7.70" height="2.30" fill="#d71432" stroke="#5a0814" stroke-width="0.6"/>
<line x1="475.90" y1="204.50" x2="483.60" y2="204.50" stroke="#5a0814" stroke-width="0.9"/>
<line x1="487.60" y1="160.20" x2="487.60" y2="161.30" stroke="#555" stroke-width="0.8"/>
<line x1="487.60" y1="163.90" x2="487.60" y2="165.90" stroke="#555" stroke-width="0.8"/>
<rect x="483.60" y="161.30" width="8.00" height="2.60" fill="#1e5a96" stroke="#0a2446" stroke-width="0.6"/>
<line x1="483.60" y1="162.50" x2="491.60" y2="162.50" stroke="#0a2446" stroke-width="0.9"/>
<line x1="500.40" y1="197.20" x2="500.40" y2="200.50" stroke="#555" stroke-width="0.8"/>
<rect x="496.50" y="200.50" width="7.80" height="4.00" fill="#d71432" stroke="#5a0814" stroke-width="0.6"/>
<line x1="496.50" y1="201.80" x2="504.30" y2="201.80" stroke="#5a0814" stroke-width="0.9"/>
<line x1="508.10" y1="148.30" x2="508.10" y2="152.10" stroke="#555" stroke-width="0.8"/>
<line x1="508.10" y1="159.80" x2="508.10" y2="167.90" stroke="#555" stroke-width="0.8"/>
<rect x="504.30" y="152.10" width="7.60" height="7.70" fill="#1e5a96" stroke="#0a2446" stroke-width="0.6"/>
<line x1="504.30" y1="155.60" x2="511.90" y2="155.60" stroke="#0a2446" stroke-width="0.9"/>
<text x="425.20" y="224.00" font-size="8.4" text-anchor="end" fill="#1a1a1a" stroke="#1a1a1a" stroke-width="0.15" textLength="11.59" lengthAdjust="spacingAndGlyphs" transform="rotate(-45 425.20 224.00)">BM</text>
<text x="445.65" y="224.00" font-size="8.4" text-anchor="end" fill="#1a1a1a" stroke="#1a1a1a" stroke-width="0.15" textLength="25.33" lengthAdjust="spacingAndGlyphs" transform="rotate(-45 445.65 224.00)">MDS-<tspan stroke="#c8102e" fill="#c8102e">D</tspan></text>
<text x="466.10" y="224.00" font-size="8.4" text-anchor="end" fill="#1a1a1a" stroke="#1a1a1a" stroke-width="0.15" textLength="24.46" lengthAdjust="spacingAndGlyphs" transform="rotate(-45 466.10 224.00)">MDS-<tspan stroke="#c8102e" fill="#c8102e">T</tspan></text>
<text x="486.55" y="224.00" font-size="8.4" text-anchor="end" fill="#1a1a1a" stroke="#1a1a1a" stroke-width="0.15" textLength="27.90" lengthAdjust="spacingAndGlyphs" transform="rotate(-45 486.55 224.00)">5F-HPC</text>
<text x="507.00" y="224.00" font-size="8.4" text-anchor="end" fill="#1a1a1a" stroke="#1a1a1a" stroke-width="0.15" textLength="18.05" lengthAdjust="spacingAndGlyphs" transform="rotate(-45 507.00 224.00)">K562</text>
<line x1="43.30" y1="261.90" x2="43.30" y2="367.80" stroke="#111" stroke-width="1.15"/>
<line x1="42.80" y1="367.30" x2="188.10" y2="367.30" stroke="#111" stroke-width="1.15"/>
<line x1="43.30" y1="282.50" x2="188.10" y2="282.50" stroke="#111" stroke-width="1.15"/>
<line x1="40.40" y1="265.55" x2="43.30" y2="265.55" stroke="#111" stroke-width="1.15"/>
<text x="37.90" y="268.35" font-size="8" text-anchor="end" fill="#1a1a1a" font-weight="normal" stroke="#1a1a1a" stroke-width="0.15">0.25</text>
<line x1="40.40" y1="282.50" x2="43.30" y2="282.50" stroke="#111" stroke-width="1.15"/>
<text x="37.90" y="285.30" font-size="8" text-anchor="end" fill="#1a1a1a" font-weight="normal" stroke="#1a1a1a" stroke-width="0.15">0.00</text>
<line x1="40.40" y1="299.45" x2="43.30" y2="299.45" stroke="#111" stroke-width="1.15"/>
<text x="37.90" y="302.25" font-size="8" text-anchor="end" fill="#1a1a1a" font-weight="normal" stroke="#1a1a1a" stroke-width="0.15">−0.25</text>
<line x1="40.40" y1="316.40" x2="43.30" y2="316.40" stroke="#111" stroke-width="1.15"/>
<text x="37.90" y="319.20" font-size="8" text-anchor="end" fill="#1a1a1a" font-weight="normal" stroke="#1a1a1a" stroke-width="0.15">−0.50</text>
<line x1="40.40" y1="333.35" x2="43.30" y2="333.35" stroke="#111" stroke-width="1.15"/>
<text x="37.90" y="336.15" font-size="8" text-anchor="end" fill="#1a1a1a" font-weight="normal" stroke="#1a1a1a" stroke-width="0.15">−0.75</text>
<line x1="40.40" y1="350.30" x2="43.30" y2="350.30" stroke="#111" stroke-width="1.15"/>
<text x="37.90" y="353.10" font-size="8" text-anchor="end" fill="#1a1a1a" font-weight="normal" stroke="#1a1a1a" stroke-width="0.15">−1.00</text>
<line x1="40.40" y1="367.25" x2="43.30" y2="367.25" stroke="#111" stroke-width="1.15"/>
<text x="37.90" y="370.05" font-size="8" text-anchor="end" fill="#1a1a1a" font-weight="normal" stroke="#1a1a1a" stroke-width="0.15">−1.25</text>
<rect x="51.90" y="279.00" width="13.50" height="3.50" fill="#c3142f" stroke="none" stroke-width="0"/>
<rect x="89.80" y="282.50" width="13.30" height="36.30" fill="#c3142f" stroke="none" stroke-width="0"/>
<rect x="127.90" y="282.50" width="13.30" height="51.30" fill="#c3142f" stroke="none" stroke-width="0"/>
<rect x="165.90" y="282.50" width="13.30" height="72.50" fill="#c3142f" stroke="none" stroke-width="0"/>
<line x1="43.30" y1="282.50" x2="188.10" y2="282.50" stroke="#111" stroke-width="1.15"/>
<line x1="58.60" y1="367.30" x2="58.60" y2="369.80" stroke="#111" stroke-width="1.15"/>
<text x="58.60" y="379.70" font-size="8.3" text-anchor="middle" fill="#1a1a1a" font-weight="normal" stroke="#1a1a1a" stroke-width="0.15" textLength="36.90" lengthAdjust="spacingAndGlyphs">TMEM14C</text>
<line x1="96.40" y1="367.30" x2="96.40" y2="369.80" stroke="#111" stroke-width="1.15"/>
<text x="96.40" y="379.70" font-size="8.3" text-anchor="middle" fill="#1a1a1a" font-weight="normal" stroke="#1a1a1a" stroke-width="0.15" textLength="19.50" lengthAdjust="spacingAndGlyphs">PPOX</text>
<line x1="134.50" y1="367.30" x2="134.50" y2="369.80" stroke="#111" stroke-width="1.15"/>
<text x="134.50" y="379.70" font-size="8.3" text-anchor="middle" fill="#1a1a1a" font-weight="normal" stroke="#1a1a1a" stroke-width="0.15" textLength="31.50" lengthAdjust="spacingAndGlyphs">MAP3K7</text>
<line x1="172.60" y1="367.30" x2="172.60" y2="369.80" stroke="#111" stroke-width="1.15"/>
<text x="172.60" y="379.70" font-size="8.3" text-anchor="middle" fill="#1a1a1a" font-weight="normal" stroke="#1a1a1a" stroke-width="0.15" textLength="25.50" lengthAdjust="spacingAndGlyphs">ABCB7</text>
<text x="12.30" y="314.60" font-size="7.7" text-anchor="middle" fill="#222" font-weight="normal" stroke="#222" stroke-width="0.15" textLength="42.60" lengthAdjust="spacingAndGlyphs" transform="rotate(-90 12.30 314.60)">Log2 (MUT/WT)</text>
<text x="227.90" y="281.80" font-size="8.2" text-anchor="middle" fill="#1a1a1a" font-weight="normal" stroke="#1a1a1a" stroke-width="0.15" textLength="32.30" lengthAdjust="spacingAndGlyphs">HEK293T</text>
<text x="228.20" y="291.20" font-size="7.6" text-anchor="middle" fill="#1a1a1a" font-weight="normal" stroke="#1a1a1a" stroke-width="0.15" textLength="41.10" lengthAdjust="spacingAndGlyphs">transfection</text>
<line x1="254.00" y1="279.50" x2="286.50" y2="279.50" stroke="#111" stroke-width="0.95"/>
<path d="M290.00,279.50 L286.00,277.35 L286.00,281.65 Z" fill="#111"/>
<line x1="312.70" y1="279.40" x2="345.10" y2="279.40" stroke="#111" stroke-width="0.95"/>
<path d="M348.60,279.40 L344.60,277.25 L344.60,281.55 Z" fill="#111"/>
<text x="272.00" y="274.90" font-size="7.6" text-anchor="middle" fill="#1a1a1a" font-weight="normal" stroke="#1a1a1a" stroke-width="0.15" textLength="19.60" lengthAdjust="spacingAndGlyphs">48hrs</text>
<text x="300.85" y="282.30" font-size="8.2" text-anchor="middle" fill="#1a1a1a" font-weight="normal" stroke="#1a1a1a" stroke-width="0.15" textLength="16.70" lengthAdjust="spacingAndGlyphs">FLuc</text>
<text x="330.65" y="274.80" font-size="7.6" text-anchor="middle" fill="#1a1a1a" font-weight="normal" stroke="#1a1a1a" stroke-width="0.15" textLength="27.50" lengthAdjust="spacingAndGlyphs">Quench</text>
<text x="359.70" y="282.30" font-size="8.2" text-anchor="middle" fill="#1a1a1a" font-weight="normal" stroke="#1a1a1a" stroke-width="0.15" textLength="18.20" lengthAdjust="spacingAndGlyphs">NLuc</text>
<line x1="235.40" y1="310.30" x2="286.70" y2="310.30" stroke="#d2213f" stroke-width="1"/>
<rect x="287.2" y="305.9" width="25.5" height="9.2" rx="0.8" fill="none" stroke="#d2213f" stroke-width="1"/>
<path d="M292.6,305.9 L292.6,298.4 L297.6,298.4" fill="none" stroke="#d2213f" stroke-width="1"/>
<path d="M300.8,298.4 L297.2,296.5 L297.2,300.3 Z" fill="#d2213f"/>
<text x="316.50" y="312.70" font-size="8" text-anchor="start" fill="#d2213f" font-weight="normal" stroke="#d2213f" stroke-width="0.15" textLength="34.30" lengthAdjust="spacingAndGlyphs">Wild-type</text>
<line x1="229.80" y1="331.70" x2="287.20" y2="331.70" stroke="#3470ab" stroke-width="1"/>
<line x1="265.40" y1="331.70" x2="272.10" y2="331.70" stroke="#e36b80" stroke-width="1.1"/>
<rect x="287.2" y="327.4" width="26.0" height="9.6" rx="0.8" fill="none" stroke="#3470ab" stroke-width="1"/>
<path d="M292.6,327.4 L292.6,320.0 L297.6,320.0" fill="none" stroke="#3470ab" stroke-width="1"/>
<path d="M300.8,320.0 L297.2,318.1 L297.2,321.9 Z" fill="#3470ab"/>
<text x="316.50" y="334.60" font-size="8" text-anchor="start" fill="#3470ab" font-weight="normal" stroke="#3470ab" stroke-width="0.15" textLength="25.40" lengthAdjust="spacingAndGlyphs">Mutant</text>
<text x="270.35" y="340.80" font-size="7.8" text-anchor="middle" fill="#1a1a1a" font-weight="normal" stroke="#1a1a1a" stroke-width="0.15" textLength="17.70" lengthAdjust="spacingAndGlyphs">14bp</text>
<path d="M210.2,348.7 L210.2,342.2 L216.4,342.2" fill="none" stroke="#d2213f" stroke-width="1"/>
<path d="M219.4,342.2 L215.8,340.3 L215.8,344.1 Z" fill="#d2213f"/>
<rect x="209.60" y="348.70" width="39.40" height="15.90" fill="none" stroke="#f6a945" stroke-width="1.1"/>
<rect x="249.00" y="348.70" width="44.80" height="15.90" fill="none" stroke="#9a6bb0" stroke-width="1.1"/>
<rect x="293.80" y="348.70" width="9.30" height="15.90" fill="none" stroke="#8fd3f2" stroke-width="1.6"/>
<rect x="303.10" y="348.70" width="16.50" height="15.90" fill="none" stroke="#5dbb63" stroke-width="1.1"/>
<rect x="319.60" y="348.70" width="44.80" height="15.90" fill="none" stroke="#4a7db5" stroke-width="1.1"/>
<text x="229.20" y="359.60" font-size="8.8" text-anchor="middle" fill="#1a1a1a" font-weight="normal" stroke="#1a1a1a" stroke-width="0.15" textLength="10.90" lengthAdjust="spacingAndGlyphs">UTR</text>
<text x="271.20" y="359.60" font-size="8.8" text-anchor="middle" fill="#1a1a1a" font-weight="normal" stroke="#1a1a1a" stroke-width="0.15" textLength="14.50" lengthAdjust="spacingAndGlyphs">NLuc</text>
<text x="311.50" y="359.30" font-size="8.8" text-anchor="middle" fill="#1a1a1a" font-weight="normal" stroke="#1a1a1a" stroke-width="0.15" textLength="10.70" lengthAdjust="spacingAndGlyphs">T2A</text>
<text x="341.90" y="359.60" font-size="8.8" text-anchor="middle" fill="#1a1a1a" font-weight="normal" stroke="#1a1a1a" stroke-width="0.15" textLength="13.50" lengthAdjust="spacingAndGlyphs">FLuc</text>
<text x="300.90" y="357.15" font-size="6.8" text-anchor="middle" fill="#1a1a1a" font-weight="normal" stroke="#1a1a1a" stroke-width="0.15" textLength="12.50" lengthAdjust="spacingAndGlyphs" transform="rotate(-90 300.90 357.15)">PEST</text>
<rect x="209.20" y="367.20" width="39.30" height="1.30" fill="#666" stroke="none" stroke-width="0"/>
<text x="228.85" y="377.20" font-size="8.3" text-anchor="middle" fill="#1a1a1a" font-weight="normal" stroke="#1a1a1a" stroke-width="0.15" textLength="37.30" lengthAdjust="spacingAndGlyphs">TMEM14C</text>
<line x1="409.40" y1="261.90" x2="409.40" y2="368.00" stroke="#111" stroke-width="1.15"/>
<line x1="408.90" y1="367.50" x2="512.50" y2="367.50" stroke="#111" stroke-width="1.15"/>
<line x1="405.00" y1="367.50" x2="409.40" y2="367.50" stroke="#111" stroke-width="1.15"/>
<text x="403.40" y="370.30" font-size="8" text-anchor="end" fill="#1a1a1a" font-weight="normal" stroke="#1a1a1a" stroke-width="0.15">0</text>
<line x1="405.00" y1="341.91" x2="409.40" y2="341.91" stroke="#111" stroke-width="1.15"/>
<text x="403.40" y="344.71" font-size="8" text-anchor="end" fill="#1a1a1a" font-weight="normal" stroke="#1a1a1a" stroke-width="0.15">25</text>
<line x1="405.00" y1="316.32" x2="409.40" y2="316.32" stroke="#111" stroke-width="1.15"/>
<text x="403.40" y="319.12" font-size="8" text-anchor="end" fill="#1a1a1a" font-weight="normal" stroke="#1a1a1a" stroke-width="0.15">50</text>
<line x1="405.00" y1="290.74" x2="409.40" y2="290.74" stroke="#111" stroke-width="1.15"/>
<text x="403.40" y="293.54" font-size="8" text-anchor="end" fill="#1a1a1a" font-weight="normal" stroke="#1a1a1a" stroke-width="0.15">75</text>
<line x1="405.00" y1="265.15" x2="409.40" y2="265.15" stroke="#111" stroke-width="1.15"/>
<text x="403.40" y="267.95" font-size="8" text-anchor="end" fill="#1a1a1a" font-weight="normal" stroke="#1a1a1a" stroke-width="0.15">100</text>
<rect x="429.20" y="278.00" width="25.30" height="89.50" fill="#df8495" stroke="none" stroke-width="0"/>
<rect x="477.60" y="295.80" width="25.30" height="71.70" fill="#88a7c5" stroke="none" stroke-width="0"/>
<line x1="441.60" y1="269.40" x2="441.60" y2="285.50" stroke="#c8102e" stroke-width="1.0"/>
<line x1="435.20" y1="269.40" x2="447.80" y2="269.40" stroke="#c8102e" stroke-width="1.0"/>
<line x1="435.20" y1="285.50" x2="447.80" y2="285.50" stroke="#c8102e" stroke-width="1.0"/>
<line x1="490.10" y1="282.90" x2="490.10" y2="308.30" stroke="#0e4a84" stroke-width="1.0"/>
<line x1="483.70" y1="282.90" x2="496.30" y2="282.90" stroke="#0e4a84" stroke-width="1.0"/>
<line x1="483.70" y1="308.30" x2="496.30" y2="308.30" stroke="#0e4a84" stroke-width="1.0"/>
<circle cx="441.60" cy="266.80" r="1.75" fill="#c8102e"/>
<circle cx="443.40" cy="271.30" r="1.75" fill="#c8102e"/>
<circle cx="440.20" cy="275.10" r="1.75" fill="#c8102e"/>
<circle cx="440.20" cy="280.80" r="1.75" fill="#c8102e"/>
<circle cx="443.40" cy="282.50" r="1.75" fill="#c8102e"/>
<circle cx="441.60" cy="288.10" r="1.75" fill="#c8102e"/>
<circle cx="490.10" cy="277.30" r="1.75" fill="#0e4a84"/>
<circle cx="489.60" cy="289.80" r="1.75" fill="#0e4a84"/>
<circle cx="491.50" cy="292.40" r="1.75" fill="#0e4a84"/>
<circle cx="488.40" cy="295.50" r="1.75" fill="#0e4a84"/>
<circle cx="490.10" cy="304.20" r="1.75" fill="#0e4a84"/>
<circle cx="490.10" cy="314.60" r="1.75" fill="#0e4a84"/>
<line x1="441.60" y1="261.30" x2="490.40" y2="261.30" stroke="#2a2a2a" stroke-width="1.1"/>
<circle cx="465.90" cy="257.40" r="1.15" fill="#1a1a1a"/>
<line x1="441.60" y1="367.50" x2="441.60" y2="369.80" stroke="#111" stroke-width="1.15"/>
<line x1="490.30" y1="367.50" x2="490.30" y2="369.80" stroke="#111" stroke-width="1.15"/>
<text x="441.60" y="380.20" font-size="8" text-anchor="middle" fill="#1a1a1a" font-weight="normal" stroke="#1a1a1a" stroke-width="0.15" textLength="11.00" lengthAdjust="spacingAndGlyphs">WT</text>
<text x="490.30" y="380.20" font-size="8" text-anchor="middle" fill="#1a1a1a" font-weight="normal" stroke="#1a1a1a" stroke-width="0.15" textLength="15.50" lengthAdjust="spacingAndGlyphs">MUT</text>
<text x="389.30" y="316.60" font-size="8.4" text-anchor="middle" fill="#1a1a1a" font-weight="normal" stroke="#1a1a1a" stroke-width="0.15" textLength="30.50" lengthAdjust="spacingAndGlyphs" transform="rotate(-90 389.30 316.60)">Nluc/Fluc</text>
<text x="70.80" y="427.30" font-size="8.6" text-anchor="middle" fill="#1a1a1a" font-weight="normal" stroke="#1a1a1a" stroke-width="0.15" textLength="12.20" lengthAdjust="spacingAndGlyphs">WT</text>
<text x="116.30" y="427.20" font-size="8.6" text-anchor="middle" fill="#1a1a1a" font-weight="normal" stroke="#1a1a1a" stroke-width="0.15" textLength="17.60" lengthAdjust="spacingAndGlyphs">MUT</text>
<text x="44.80" y="443.80" font-size="8.3" text-anchor="end" fill="#1a1a1a" font-weight="normal" stroke="#1a1a1a" stroke-width="0.15" textLength="37.50" lengthAdjust="spacingAndGlyphs">TMEM14C</text>
<text x="44.80" y="467.90" font-size="8.3" text-anchor="end" fill="#1a1a1a" font-weight="normal" stroke="#1a1a1a" stroke-width="0.15" textLength="21.20" lengthAdjust="spacingAndGlyphs">PPOX</text>
<text x="44.80" y="491.70" font-size="8.3" text-anchor="end" fill="#1a1a1a" font-weight="normal" stroke="#1a1a1a" stroke-width="0.15" textLength="31.00" lengthAdjust="spacingAndGlyphs">MAP3K7</text>
<text x="44.80" y="515.60" font-size="8.3" text-anchor="end" fill="#1a1a1a" font-weight="normal" stroke="#1a1a1a" stroke-width="0.15" textLength="25.20" lengthAdjust="spacingAndGlyphs">ABCB7</text>
<text x="44.80" y="539.60" font-size="8.3" text-anchor="end" fill="#1a1a1a" font-weight="normal" stroke="#1a1a1a" stroke-width="0.15" textLength="27.90" lengthAdjust="spacingAndGlyphs">GAPDH</text>
<text x="144.00" y="443.90" font-size="8.3" text-anchor="start" fill="#1a1a1a" font-weight="normal" stroke="#1a1a1a" stroke-width="0.15" textLength="22.20" lengthAdjust="spacingAndGlyphs">11kDa</text>
<text x="144.00" y="468.00" font-size="8.3" text-anchor="start" fill="#1a1a1a" font-weight="normal" stroke="#1a1a1a" stroke-width="0.15" textLength="22.20" lengthAdjust="spacingAndGlyphs">51kDa</text>
<text x="144.00" y="491.90" font-size="8.3" text-anchor="start" fill="#1a1a1a" font-weight="normal" stroke="#1a1a1a" stroke-width="0.15" textLength="22.20" lengthAdjust="spacingAndGlyphs">80kDa</text>
<text x="144.00" y="515.80" font-size="8.3" text-anchor="start" fill="#1a1a1a" font-weight="normal" stroke="#1a1a1a" stroke-width="0.15" textLength="22.20" lengthAdjust="spacingAndGlyphs">83kDa</text>
<text x="144.00" y="539.40" font-size="8.3" text-anchor="start" fill="#1a1a1a" font-weight="normal" stroke="#1a1a1a" stroke-width="0.15" textLength="22.20" lengthAdjust="spacingAndGlyphs">36kDa</text>
<rect x="49.00" y="431.80" width="90.30" height="18.80" fill="#e8e8e8" stroke="none" stroke-width="0" filter="url(#b1)"/>
<rect x="49.00" y="456.30" width="89.80" height="18.70" fill="#e6e6e6" stroke="none" stroke-width="0" filter="url(#b1)"/>
<rect x="49.00" y="480.00" width="89.80" height="18.40" fill="#dedede" stroke="none" stroke-width="0" filter="url(#b1)"/>
<rect x="49.00" y="503.90" width="89.80" height="18.20" fill="#d8d8d8" stroke="none" stroke-width="0" filter="url(#b1)"/>
<rect x="49.20" y="527.40" width="88.40" height="18.20" fill="#f0f0f0" stroke="none" stroke-width="0" filter="url(#b1)"/>
<g filter="url(#b1)">
<rect x="53.5" y="433.4" width="35" height="3.2" fill="#b4b4b4"/>
<rect x="95.5" y="432.5" width="41" height="3.0" fill="#b8b8b8"/>
<path d="M51.5,442.0 C53,439.2 57,438.2 62,438.0 L86,437.9 C89,438.4 90.5,439.8 91.6,441.4 L91.6,444.9 C89,444.7 86,444.8 62,444.8 C57,444.8 54,445.2 51.5,445.0 Z" fill="#050505"/>
<path d="M90.2,442.4 C93,439.3 97,437.0 102,436.6 L128,436.4 C133,436.6 136,437.1 138.6,437.8 L138.6,443.5 C135,443.2 131,443.2 128,443.2 L102,443.3 C97,443.5 93,444.2 90.2,444.8 Z" fill="#050505"/>
</g>
<g filter="url(#b1)">
<path d="M58.2,462.6 C58.4,461.8 60,461.7 62,461.6 L88,461.0 L90.8,459.6 L92.2,459.8 L92.2,469.9 L60.5,469.9 C58.8,469.6 58.2,468.4 58.2,466.5 Z" fill="#030303"/>
<path d="M101.5,462.9 L127,462.2 L130.5,460.2 L133.4,460.4 L133.4,466.2 L127,467.0 L102,467.7 Z" fill="#0a0a0a"/>
</g>
<g filter="url(#b2)">
<rect x="87" y="480.5" width="11" height="17.4" fill="#ececec"/>
<rect x="99" y="481" width="38" height="16.6" fill="#e2e2e2"/>
<rect x="54" y="485.4" width="31.5" height="7.6" rx="3" fill="#484848"/>
<ellipse cx="57.8" cy="489" rx="4.2" ry="3.6" fill="#151515"/>
<ellipse cx="75" cy="488.6" rx="4" ry="3.4" fill="#282828"/>
<ellipse cx="105" cy="488.6" rx="3" ry="2.6" fill="#b0b0b0"/>
<ellipse cx="130.4" cy="488.2" rx="2.8" ry="2.6" fill="#bcbcbc"/>
<ellipse cx="117" cy="489" rx="10" ry="2.2" fill="#d0d0d0"/>
</g>
<g filter="url(#b1)">
<rect x="49" y="504" width="3" height="18" fill="#9a9a9a"/>
<rect x="86" y="504.5" width="12" height="17.2" fill="#e6e6e6"/>
<rect x="131" y="504.5" width="7.6" height="17.2" fill="#dedede"/>
<rect x="51.8" y="504.5" width="33.2" height="16.8" rx="1.5" fill="#1e1e1e"/>
<rect x="99.2" y="504.5" width="31.2" height="16.8" rx="1.5" fill="#9c9c9c"/>
</g>
<g filter="url(#b2)">
<ellipse cx="58.5" cy="512.8" rx="6.5" ry="7.8" fill="#000"/>
<ellipse cx="72" cy="512.5" rx="3.5" ry="4.5" fill="#383838"/>
<ellipse cx="81" cy="513" rx="3" ry="6" fill="#1a1a1a"/>
<ellipse cx="103" cy="512.8" rx="3.6" ry="6.8" fill="#202020"/>
<ellipse cx="128.5" cy="514" rx="2" ry="5" fill="#6a6a6a"/>
</g>
<g filter="url(#b1)">
<path d="M53.5,534.2 Q68,533.6 84,534.8 Q86.2,535.5 86.2,537 Q86.2,538.8 84,539.1 Q68,539.8 53.5,539.7 Q52.2,539.5 52.2,537 Q52.2,534.4 53.5,534.2 Z" fill="#050505"/>
<path d="M97.5,532.8 Q115,532.0 133.5,532.9 Q135.6,533.6 135.6,536.4 Q135.6,539.7 133.5,540.2 Q115,540.9 97.5,540.6 Q95.7,540.0 95.7,536.6 Q95.7,533.2 97.5,532.8 Z" fill="#030303"/>
</g>
<line x1="232.30" y1="403.40" x2="232.30" y2="537.00" stroke="#111" stroke-width="1.15"/>
<line x1="231.80" y1="536.50" x2="450.30" y2="536.50" stroke="#111" stroke-width="1.15"/>
<line x1="229.80" y1="536.60" x2="232.30" y2="536.60" stroke="#111" stroke-width="1.15"/>
<text x="227.80" y="539.30" font-size="7.8" text-anchor="end" fill="#1a1a1a" font-weight="normal" stroke="#1a1a1a" stroke-width="0.15" textLength="10.00" lengthAdjust="spacingAndGlyphs">0.0</text>
<line x1="229.80" y1="493.35" x2="232.30" y2="493.35" stroke="#111" stroke-width="1.15"/>
<text x="227.80" y="496.05" font-size="7.8" text-anchor="end" fill="#1a1a1a" font-weight="normal" stroke="#1a1a1a" stroke-width="0.15" textLength="10.00" lengthAdjust="spacingAndGlyphs">0.5</text>
<line x1="229.80" y1="450.10" x2="232.30" y2="450.10" stroke="#111" stroke-width="1.15"/>
<text x="227.80" y="452.80" font-size="7.8" text-anchor="end" fill="#1a1a1a" font-weight="normal" stroke="#1a1a1a" stroke-width="0.15" textLength="10.00" lengthAdjust="spacingAndGlyphs">1.0</text>
<line x1="229.80" y1="406.85" x2="232.30" y2="406.85" stroke="#111" stroke-width="1.15"/>
<text x="227.80" y="409.55" font-size="7.8" text-anchor="end" fill="#1a1a1a" font-weight="normal" stroke="#1a1a1a" stroke-width="0.15" textLength="10.00" lengthAdjust="spacingAndGlyphs">1.5</text>
<rect x="242.10" y="408.70" width="5.40" height="5.20" fill="#d71432" stroke="none" stroke-width="0"/>
<rect x="242.10" y="418.80" width="5.40" height="5.40" fill="#1e5a96" stroke="none" stroke-width="0"/>
<text x="250.50" y="413.60" font-size="7" text-anchor="start" fill="#1a1a1a" font-weight="normal" stroke="#1a1a1a" stroke-width="0.15" textLength="10.70" lengthAdjust="spacingAndGlyphs">WT</text>
<text x="250.50" y="423.80" font-size="7" text-anchor="start" fill="#1a1a1a" font-weight="normal" stroke="#1a1a1a" stroke-width="0.15" textLength="16.10" lengthAdjust="spacingAndGlyphs">MUT</text>
<rect x="240.10" y="451.60" width="13.10" height="84.90" fill="#df8495" stroke="none" stroke-width="0"/>
<rect x="261.20" y="487.90" width="12.90" height="48.60" fill="#88a7c5" stroke="none" stroke-width="0"/>
<line x1="256.90" y1="536.50" x2="256.90" y2="539.00" stroke="#111" stroke-width="1.15"/>
<rect x="295.95" y="451.60" width="13.10" height="84.90" fill="#df8495" stroke="none" stroke-width="0"/>
<rect x="317.05" y="504.90" width="12.90" height="31.60" fill="#88a7c5" stroke="none" stroke-width="0"/>
<line x1="312.75" y1="536.50" x2="312.75" y2="539.00" stroke="#111" stroke-width="1.15"/>
<rect x="351.80" y="451.60" width="13.10" height="84.90" fill="#df8495" stroke="none" stroke-width="0"/>
<rect x="372.90" y="507.00" width="12.90" height="29.50" fill="#88a7c5" stroke="none" stroke-width="0"/>
<line x1="368.60" y1="536.50" x2="368.60" y2="539.00" stroke="#111" stroke-width="1.15"/>
<rect x="407.65" y="451.60" width="13.10" height="84.90" fill="#df8495" stroke="none" stroke-width="0"/>
<rect x="428.75" y="504.00" width="12.90" height="32.50" fill="#88a7c5" stroke="none" stroke-width="0"/>
<line x1="424.45" y1="536.50" x2="424.45" y2="539.00" stroke="#111" stroke-width="1.15"/>
<line x1="267.30" y1="469.40" x2="267.30" y2="504.70" stroke="#1a5590" stroke-width="1.0"/>
<line x1="264.00" y1="469.40" x2="270.80" y2="469.40" stroke="#1a5590" stroke-width="1.0"/>
<line x1="264.00" y1="504.70" x2="270.80" y2="504.70" stroke="#1a5590" stroke-width="1.0"/>
<line x1="323.60" y1="498.60" x2="323.60" y2="509.20" stroke="#1a5590" stroke-width="1.0"/>
<line x1="320.30" y1="498.60" x2="327.00" y2="498.60" stroke="#1a5590" stroke-width="1.0"/>
<line x1="320.30" y1="509.20" x2="327.00" y2="509.20" stroke="#1a5590" stroke-width="1.0"/>
<line x1="379.70" y1="502.20" x2="379.70" y2="509.30" stroke="#1a5590" stroke-width="1.0"/>
<line x1="376.50" y1="502.20" x2="382.90" y2="502.20" stroke="#1a5590" stroke-width="1.0"/>
<line x1="376.50" y1="509.30" x2="382.90" y2="509.30" stroke="#1a5590" stroke-width="1.0"/>
<line x1="435.20" y1="495.30" x2="435.20" y2="511.50" stroke="#1a5590" stroke-width="1.0"/>
<line x1="431.50" y1="495.30" x2="438.70" y2="495.30" stroke="#1a5590" stroke-width="1.0"/>
<line x1="431.50" y1="511.50" x2="438.70" y2="511.50" stroke="#1a5590" stroke-width="1.0"/>
<circle cx="267.30" cy="471.70" r="2.0" fill="#0e4a84"/>
<circle cx="267.30" cy="483.40" r="2.0" fill="#0e4a84"/>
<circle cx="267.30" cy="505.80" r="2.0" fill="#0e4a84"/>
<circle cx="323.20" cy="497.10" r="2.0" fill="#0e4a84"/>
<circle cx="326.70" cy="505.20" r="2.0" fill="#0e4a84"/>
<circle cx="319.70" cy="508.10" r="2.0" fill="#0e4a84"/>
<circle cx="376.40" cy="502.10" r="2.0" fill="#0e4a84"/>
<circle cx="378.70" cy="508.50" r="2.0" fill="#0e4a84"/>
<circle cx="382.80" cy="506.40" r="2.0" fill="#0e4a84"/>
<circle cx="435.30" cy="494.20" r="2.0" fill="#0e4a84"/>
<circle cx="438.90" cy="504.30" r="2.0" fill="#0e4a84"/>
<circle cx="431.40" cy="511.30" r="2.0" fill="#0e4a84"/>
<text x="256.90" y="549.30" font-size="8.3" text-anchor="middle" fill="#1a1a1a" font-weight="normal" stroke="#1a1a1a" stroke-width="0.15" textLength="37.20" lengthAdjust="spacingAndGlyphs">TMEM14C</text>
<text x="312.75" y="549.30" font-size="8.3" text-anchor="middle" fill="#1a1a1a" font-weight="normal" stroke="#1a1a1a" stroke-width="0.15" textLength="19.50" lengthAdjust="spacingAndGlyphs">PPOX</text>
<text x="368.60" y="549.30" font-size="8.3" text-anchor="middle" fill="#1a1a1a" font-weight="normal" stroke="#1a1a1a" stroke-width="0.15" textLength="31.50" lengthAdjust="spacingAndGlyphs">MAP3K7</text>
<text x="424.45" y="549.30" font-size="8.3" text-anchor="middle" fill="#1a1a1a" font-weight="normal" stroke="#1a1a1a" stroke-width="0.15" textLength="25.50" lengthAdjust="spacingAndGlyphs">ABCB7</text>
<text x="209.80" y="472.00" font-size="7.9" text-anchor="middle" fill="#222" font-weight="normal" stroke="#222" stroke-width="0.15" textLength="72.20" lengthAdjust="spacingAndGlyphs" transform="rotate(-90 209.80 472.00)">Fold change (Mut/WT)</text>
<rect x="0.50" y="0.50" width="519.00" height="556.00" fill="none" stroke="#000" stroke-width="1"/>
</svg></body></html>
